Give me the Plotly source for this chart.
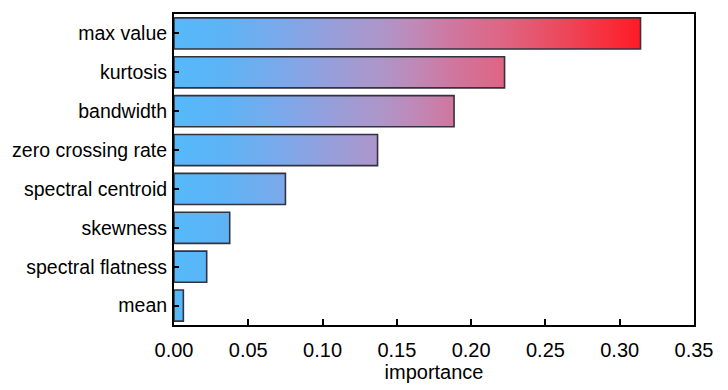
import plotly.graph_objects as go

features = ["max value", "kurtosis", "bandwidth", "zero crossing rate",
            "spectral centroid", "skewness", "spectral flatness", "mean"]
importance = [0.314, 0.2225, 0.1885, 0.137, 0.075, 0.0375, 0.022, 0.0063]
x_ticks = [0.00, 0.05, 0.10, 0.15, 0.20, 0.25, 0.30, 0.35]

colorscale = [
    [0.00, "#55B9FA"],
    [0.10, "#5CB4F6"],
    [0.24, "#7DA8EA"],
    [0.35, "#9A9DD8"],
    [0.44, "#AD96CA"],
    [0.52, "#C088B6"],
    [0.60, "#D0769E"],
    [0.71, "#DF6482"],
    [0.85, "#EE4457"],
    [1.00, "#FF1A25"],
]

n = len(features)
half = 0.4
vmax = max(importance)

fig = go.Figure()
for i, (name, v) in enumerate(zip(features, importance)):
    pos = n - 1 - i
    fig.add_trace(go.Scatter(
        x=[0, v, v, 0, 0],
        y=[pos - half, pos - half, pos + half, pos + half, pos - half],
        mode="lines",
        fill="toself",
        fillgradient=dict(type="horizontal", colorscale=colorscale, start=0, stop=vmax),
        line=dict(color="#33333f", width=1.6),
        name=name,
        showlegend=False,
        hoverinfo="text",
        text=f"{name}: {v}",
    ))

font = "Liberation Sans, Arial, sans-serif"
fig.update_layout(
    width=728, height=390,
    margin=dict(l=166, r=42, t=6, b=73),
    paper_bgcolor="white", plot_bgcolor="white",
    font=dict(family=font, size=20, color="black"),
    showlegend=False,
)
fig.update_xaxes(
    range=[0, 0.35], tickvals=x_ticks, ticktext=[f"{t:.2f}" for t in x_ticks],
    ticks="inside", ticklen=6, tickwidth=1.5, tickcolor="black",
    showline=True, linecolor="black", linewidth=2, mirror=True,
    showgrid=False, zeroline=False, automargin=False,
    title=dict(text="importance", standoff=2, font=dict(size=20)),
    ticklabelstandoff=6,
)
fig.update_yaxes(
    range=[-0.5, n - 0.5],
    tickvals=[n - 1 - i for i in range(n)], ticktext=features,
    tickfont=dict(size=19.5),
    ticks="inside", ticklen=5, tickwidth=1.5, tickcolor="black",
    showline=True, linecolor="black", linewidth=2, mirror=True,
    showgrid=False, zeroline=False, automargin=False,
    ticklabelstandoff=1,
)
fig.write_html("out.html")
